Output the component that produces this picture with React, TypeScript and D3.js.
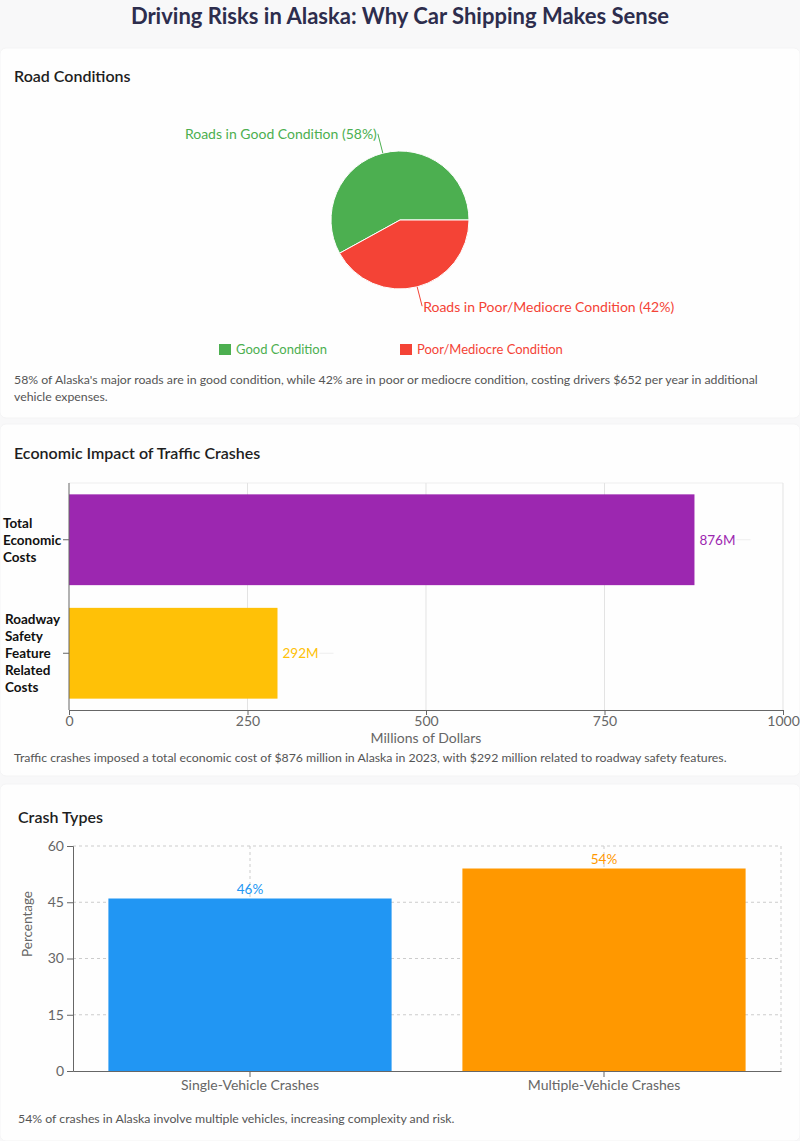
import React, { useRef, useEffect } from 'react';
import * as d3 from 'd3';

// Road conditions
const roadLabels = ['Good Condition', 'Poor/Mediocre Condition'];
const roadNames = ['Roads in Good Condition', 'Roads in Poor/Mediocre Condition'];
const roadValues = [58, 42];
const roadColors = ['#4caf50', '#f44336'];

// Economic impact (millions of dollars)
const costCategories = [
  ['Total', 'Economic', 'Costs'],
  ['Roadway', 'Safety', 'Feature', 'Related', 'Costs'],
];
const costValues = [876, 292];
const costColors = ['#9c27b0', '#ffc107'];
const costTicks = [0, 250, 500, 750, 1000];

// Crash types (percentage)
const crashCategories = ['Single-Vehicle Crashes', 'Multiple-Vehicle Crashes'];
const crashValues = [46, 54];
const crashColors = ['#2196f3', '#ff9800'];
const crashTicks = [0, 15, 30, 45, 60];

const W = 800;
const H = 1141;
const FONT = 'Lato, "Open Sans", sans-serif';

const App = () => {
  const svgRef = useRef<SVGSVGElement>(null);

  useEffect(() => {
    document.body.style.margin = '0';
    document.body.style.background = '#f8f8f9';
    if (!svgRef.current) return;

    const svg = d3.select(svgRef.current);
    svg.selectAll('*').remove();
    svg.attr('width', W).attr('height', H).style('font-family', FONT);

    svg.append('rect').attr('width', W).attr('height', H).attr('fill', '#f8f8f9');

    // cards
    const cards = [
      [48, 370],
      [424, 352],
      [784, 357],
    ];
    cards.forEach(([y, h]) => {
      svg.append('rect')
        .attr('x', 0).attr('y', y).attr('width', W).attr('height', h)
        .attr('rx', 6)
        .attr('fill', '#fefefe')
        .attr('stroke', '#f4f4f5');
    });

    // title
    svg.append('text')
      .attr('x', W / 2).attr('y', 15)
      .attr('text-anchor', 'middle')
      .attr('dominant-baseline', 'central')
      .attr('font-size', 22)
      .attr('font-weight', 'bold')
      .attr('fill', '#2d2d4d')
      .text('Driving Risks in Alaska: Why Car Shipping Makes Sense');

    const heading = (x: number, y: number, t: string) =>
      svg.append('text')
        .attr('x', x).attr('y', y)
        .attr('dominant-baseline', 'central')
        .attr('font-size', 16)
        .attr('font-weight', 600)
        .attr('fill', '#1e1e1e')
        .text(t);

    const para = (x: number, y: number, lines: string[]) => {
      lines.forEach((l, i) => {
        svg.append('text')
          .attr('x', x).attr('y', y + i * 17)
          .attr('dominant-baseline', 'central')
          .attr('font-size', 12.3)
          .attr('fill', '#555')
          .text(l);
      });
    };

    // ---------- Road conditions pie ----------
    heading(14, 75, 'Road Conditions');

    const cx = 400, cy = 220, r = 69;
    const pie = d3.pie<number>()
      .sort(null)
      .startAngle(Math.PI / 2)
      .endAngle(Math.PI / 2 - 2 * Math.PI);
    const arcs = pie(roadValues);
    const arc = d3.arc<d3.PieArcDatum<number>>().innerRadius(0).outerRadius(r);
    const pg = svg.append('g').attr('transform', `translate(${cx},${cy})`);

    pg.selectAll('path')
      .data(arcs)
      .enter()
      .append('path')
      .attr('d', arc)
      .attr('fill', (d, i) => roadColors[i])
      .attr('stroke', '#fff')
      .attr('stroke-width', 1);

    arcs.forEach((d, i) => {
      const m = (d.startAngle + d.endAngle) / 2;
      const p1 = [r * Math.sin(m), -r * Math.cos(m)];
      const p2 = [(r + 20) * Math.sin(m), -(r + 20) * Math.cos(m)];
      pg.append('path')
        .attr('d', d3.line()([p1 as [number, number], p2 as [number, number]]))
        .attr('stroke', roadColors[i])
        .attr('fill', 'none');
      const right = p2[0] > 0;
      pg.append('text')
        .attr('x', p2[0] + (right ? 1 : -1))
        .attr('y', p2[1])
        .attr('text-anchor', right ? 'start' : 'end')
        .attr('dominant-baseline', 'central')
        .attr('font-size', 14)
        .attr('fill', roadColors[i])
        .text(`${roadNames[i]} (${roadValues[i]}%)`);
    });

    // legend
    const legendX = [219, 400];
    roadLabels.forEach((l, i) => {
      svg.append('rect')
        .attr('x', legendX[i]).attr('y', 344)
        .attr('width', 12).attr('height', 11)
        .attr('fill', roadColors[i]);
      svg.append('text')
        .attr('x', legendX[i] + 17).attr('y', 349)
        .attr('dominant-baseline', 'central')
        .attr('font-size', 13)
        .attr('fill', roadColors[i])
        .text(l);
    });

    para(14, 379, [
      "58% of Alaska's major roads are in good condition, while 42% are in poor or mediocre condition, costing drivers $652 per year in additional",
      'vehicle expenses.',
    ]);

    // ---------- Economic impact horizontal bars ----------
    heading(14, 452, 'Economic Impact of Traffic Crashes');

    const x1 = d3.scaleLinear().domain([0, 1000]).range([69, 783]);
    const y1 = d3.scaleBand<number>()
      .domain(costValues.map((_, i) => i))
      .range([483, 710])
      .paddingInner(0.2)
      .paddingOuter(0.1);

    const g1 = svg.append('g');
    g1.append('line')
      .attr('x1', 69).attr('x2', 783).attr('y1', 483).attr('y2', 483)
      .attr('stroke', '#eeeeee');
    costTicks.slice(1).forEach((t) => {
      g1.append('line')
        .attr('x1', x1(t)).attr('x2', x1(t)).attr('y1', 483).attr('y2', 710)
        .attr('stroke', '#e3e3e3');
    });

    g1.selectAll('rect.bar')
      .data(costValues)
      .enter()
      .append('rect')
      .attr('class', 'bar')
      .attr('x', x1(0))
      .attr('y', (d, i) => y1(i)!)
      .attr('width', (d) => x1(d) - x1(0))
      .attr('height', y1.bandwidth())
      .attr('fill', (d, i) => costColors[i]);

    costValues.forEach((v, i) => {
      const yc = y1(i)! + y1.bandwidth() / 2;
      g1.append('text')
        .attr('x', x1(v) + 5).attr('y', yc)
        .attr('dominant-baseline', 'central')
        .attr('font-size', 13.5)
        .attr('fill', costColors[i])
        .text(`${v}M`);
      g1.append('line')
        .attr('x1', x1(v) + 42).attr('x2', x1(v) + 56).attr('y1', yc).attr('y2', yc)
        .attr('stroke', '#eeeeee');
    });

    // x axis
    const ax1 = g1.append('g')
      .attr('transform', 'translate(0,710)')
      .call(d3.axisBottom(x1).tickValues(costTicks).tickFormat(d3.format('d')).tickSize(5).tickPadding(1));
    ax1.select('.domain').attr('stroke', '#666');
    ax1.selectAll('.tick line').attr('stroke', '#666');
    ax1.selectAll('.tick text').attr('fill', '#666').attr('font-size', 14).attr('font-family', FONT);

    g1.append('text')
      .attr('x', 426).attr('y', 737)
      .attr('text-anchor', 'middle')
      .attr('dominant-baseline', 'central')
      .attr('font-size', 14)
      .attr('fill', '#666')
      .text('Millions of Dollars');

    // y axis
    g1.append('line')
      .attr('x1', 69).attr('x2', 69).attr('y1', 483).attr('y2', 710)
      .attr('stroke', '#666');
    costCategories.forEach((lines, i) => {
      const yc = y1(i)! + y1.bandwidth() / 2;
      g1.append('line')
        .attr('x1', 63).attr('x2', 69).attr('y1', yc).attr('y2', yc)
        .attr('stroke', '#666');
      const lh = 17;
      lines.forEach((l, j) => {
        g1.append('text')
          .attr('x', i === 0 ? 3 : 5)
          .attr('y', yc + (j - (lines.length - 1) / 2) * lh)
          .attr('dominant-baseline', 'central')
          .attr('font-size', 13.5)
          .attr('font-weight', 'bold')
          .attr('fill', '#111')
          .text(l);
      });
    });

    para(14, 757, [
      'Traffic crashes imposed a total economic cost of $876 million in Alaska in 2023, with $292 million related to roadway safety features.',
    ]);

    // ---------- Crash types vertical bars ----------
    heading(18, 816, 'Crash Types');

    const x2 = d3.scaleBand<string>()
      .domain(crashCategories)
      .range([73, 781])
      .paddingInner(0.2)
      .paddingOuter(0.1);
    const y2 = d3.scaleLinear().domain([0, 60]).range([1071, 846]);

    const g2 = svg.append('g');
    crashTicks.slice(1).forEach((t) => {
      g2.append('line')
        .attr('x1', 73).attr('x2', 781).attr('y1', y2(t)).attr('y2', y2(t))
        .attr('stroke', '#ccc').attr('stroke-dasharray', '3 3');
    });
    [...crashCategories.map((c) => x2(c)! + x2.bandwidth() / 2), 781].forEach((xv) => {
      g2.append('line')
        .attr('x1', xv).attr('x2', xv).attr('y1', 846).attr('y2', 1071)
        .attr('stroke', '#ccc').attr('stroke-dasharray', '3 3');
    });

    g2.selectAll('rect.bar')
      .data(crashValues)
      .enter()
      .append('rect')
      .attr('class', 'bar')
      .attr('x', (d, i) => x2(crashCategories[i])!)
      .attr('y', (d) => y2(d))
      .attr('width', x2.bandwidth())
      .attr('height', (d) => y2(0) - y2(d))
      .attr('fill', (d, i) => crashColors[i]);

    crashValues.forEach((v, i) => {
      g2.append('text')
        .attr('x', x2(crashCategories[i])! + x2.bandwidth() / 2)
        .attr('y', y2(v) - 5)
        .attr('text-anchor', 'middle')
        .attr('font-size', 13.5)
        .attr('fill', crashColors[i])
        .text(`${v}%`);
    });

    const ax2 = g2.append('g')
      .attr('transform', 'translate(0,1071)')
      .call(d3.axisBottom(x2).tickSize(6).tickPadding(3).tickSizeOuter(0));
    ax2.select('.domain').attr('stroke', '#666');
    ax2.selectAll('.tick line').attr('stroke', '#666');
    ax2.selectAll('.tick text').attr('fill', '#666').attr('font-size', 14).attr('font-family', FONT);

    const ay2 = g2.append('g')
      .attr('transform', 'translate(73,0)')
      .call(d3.axisLeft(y2).tickValues(crashTicks).tickSize(6).tickPadding(3));
    ay2.select('.domain').attr('stroke', '#666');
    ay2.selectAll('.tick line').attr('stroke', '#666');
    ay2.selectAll('.tick text').attr('fill', '#666').attr('font-size', 14).attr('font-family', FONT);

    g2.append('text')
      .attr('transform', 'translate(27,924) rotate(-90)')
      .attr('text-anchor', 'middle')
      .attr('dominant-baseline', 'central')
      .attr('font-size', 13.5)
      .attr('fill', '#666')
      .text('Percentage');

    para(18, 1118, [
      '54% of crashes in Alaska involve multiple vehicles, increasing complexity and risk.',
    ]);
  }, []);

  return <svg ref={svgRef} style={{ display: 'block' }} />;
};

export default App;
